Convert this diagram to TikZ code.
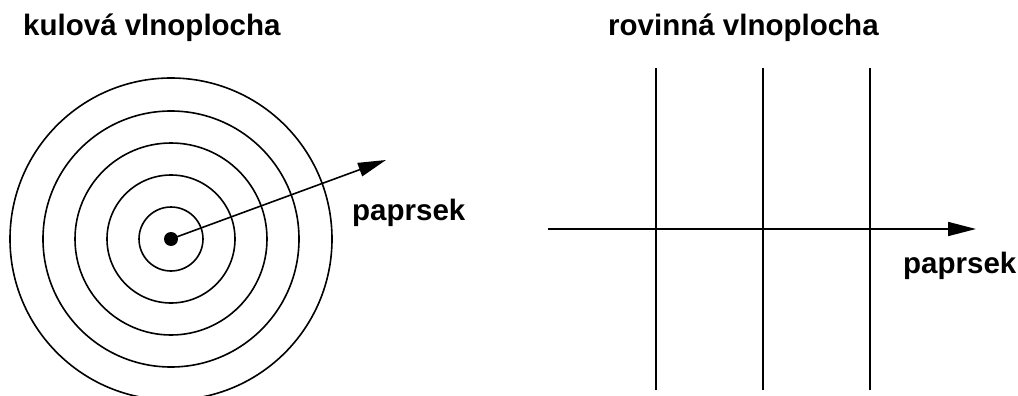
\documentclass[tikz,border=0pt]{standalone}
\usepackage{fontspec}
\setmainfont{Liberation Sans}
\usetikzlibrary{positioning, arrows.meta}

\tikzset{
    wave/.style={line width=1.6pt, black},
    ray/.style={line width=1.6pt, -{Triangle[length=28pt,width=14pt]}},
    label/.style={font=\bfseries\fontsize{29.5}{34}\selectfont, inner sep=0pt, anchor=base west}
}

\begin{document}
\begin{tikzpicture}[x=1pt, y=-1pt]
    \useasboundingbox (0,0) rectangle (1018,396);
    % kulova vlnoplocha
    \node[label] (titleA) at (23,36) {kulová vlnoplocha};
    \coordinate (src) at (171,239);
    \foreach \r in {32,64,96,128,161} {
        \draw[wave] (src) circle (\r);
    }
    \fill (src) circle (7);
    \coordinate (tipA) at (386,160);
    \draw[ray] (src) -- (tipA);
    \node[label] (rayA) at (352,220) {paprsek};
    % rovinna vlnoplocha
    \node[label] (titleB) at (608,36) {rovinná vlnoplocha};
    \foreach \x in {656,763,870} {
        \draw[wave] (\x,68) -- (\x,390);
    }
    \coordinate (startB) at (548,229);
    \coordinate (tipB) at (976,229);
    \draw[ray] (startB) -- (tipB);
    \node[label] (rayB) at (903,273) {paprsek};
\end{tikzpicture}
\end{document}
